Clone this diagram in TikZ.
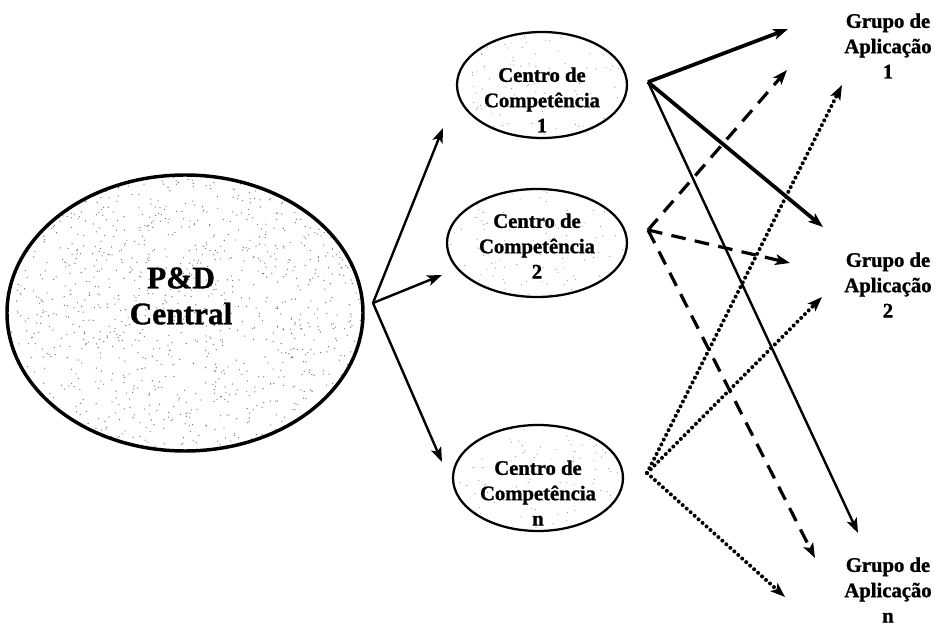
\documentclass[tikz,border=0pt]{standalone}
\usepackage{fontspec}
\setmainfont{Liberation Serif}[BoldFeatures={FakeBold=1.2}]
\usetikzlibrary{shapes.geometric,arrows.meta}

\tikzset{every picture/.style={line width=0.75pt}}
\tikzset{
  oval/.style={draw, ellipse, inner sep=0pt, line width=1.7pt},
  txt/.style={inner sep=0.75pt, align=center, font=\fontsize{15.5}{19}\selectfont\bfseries},
  tip/.style={-{Stealth[length=11pt,width=8pt,inset=2.5pt]}},
  thick line/.style={tip, line width=2.8pt},
  thin line/.style={tip, line width=1.8pt},
  dash line/.style={tip, line width=2.4pt, dash pattern=on 11pt off 7pt},
  dot line/.style={tip, line width=3pt, line cap=round, dash pattern=on 0pt off 4pt},
}

\begin{document}
\begin{tikzpicture}[x=0.75pt,y=0.75pt,yscale=-1,xscale=1]
		\path[use as bounding box] (0,0) rectangle (936,627);
		\pgfmathsetseed{17}

		%Shape: Ellipse [P&D]
		\begin{scope}
		\clip (185,313) ellipse [x radius=178, y radius=138];
		\foreach \i in {1,...,1300} {\fill[black!55] ({8+rnd*356},{175+rnd*276}) circle (0.5pt);}
		\end{scope}
		\node [oval, line width=2.6pt, minimum width=267pt, minimum height=207pt] (pd) at (185,313) {};
		\node [txt, font=\fontsize{23.5}{27}\selectfont\bfseries] (pdtxt) at (181,296) {P\&D\\Central};

		%Shape: Ellipse [centros]
		\foreach \x/\y/\w/\h in {542/85/170/106, 537/243/180/108, 538/478/170/106} {
		  \begin{scope}
		  \clip (\x,\y) ellipse [x radius=\w/2, y radius=\h/2];
		  \foreach \i in {1,...,120} {\fill[black!40] ({\x-\w/2+rnd*\w},{\y-\h/2+rnd*\h}) circle (0.45pt);}
		  \end{scope}
		}
		\node [oval, minimum width=127.5pt, minimum height=79.5pt] (cc1) at (542,85) {};
		\node [oval, minimum width=135pt, minimum height=81pt] (cc2) at (537,243) {};
		\node [oval, minimum width=127.5pt, minimum height=79.5pt] (ccn) at (538,478) {};
		\node [txt] (cc1txt) at (542,100) {Centro de\\Competência\\1};
		\node [txt] (cc2txt) at (537,246) {Centro de\\Competência\\2};
		\node [txt] (ccntxt) at (538,493) {Centro de\\Competência\\n};

		%Grupos de aplicacao
		\node [txt] (g1) at (888,46) {Grupo de\\Aplicação\\1};
		\node [txt] (g2) at (888,285) {Grupo de\\Aplicação\\2};
		\node [txt] (gn) at (888,590) {Grupo de\\Aplicação\\n};

		%fan out of P&D
		\coordinate (fan) at (373,303);
		\coordinate (in1) at (443,128);
		\coordinate (in2) at (442,275);
		\coordinate (inn) at (442,462);
		\draw [thin line] (fan) -- (in1);
		\draw [thin line] (fan) -- (in2);
		\draw [thin line] (fan) -- (inn);

		%out of the centros
		\coordinate (out1) at (648,82);
		\coordinate (out2) at (648,230);
		\coordinate (outn) at (647,473);
		\coordinate (a1) at (788,29);
		\coordinate (a2) at (823,227);
		\coordinate (an) at (858,533);
		\coordinate (b1) at (787,70);
		\coordinate (b2) at (790,263);
		\coordinate (bn) at (815,558);
		\coordinate (c1) at (842,85);
		\coordinate (c2) at (822,297);
		\coordinate (cn) at (785,597);

		\draw [thick line] (out1) -- (a1);
		\draw [thick line] (out1) -- (a2);
		\draw [thin line] (out1) -- (an);
		\draw [dash line] (out2) -- (b1);
		\draw [dash line] (out2) -- (b2);
		\draw [dash line] (out2) -- (bn);
		\draw [dot line] (outn) -- (c1);
		\draw [dot line] (outn) -- (c2);
		\draw [dot line] (outn) -- (cn);

\end{tikzpicture}
\end{document}
